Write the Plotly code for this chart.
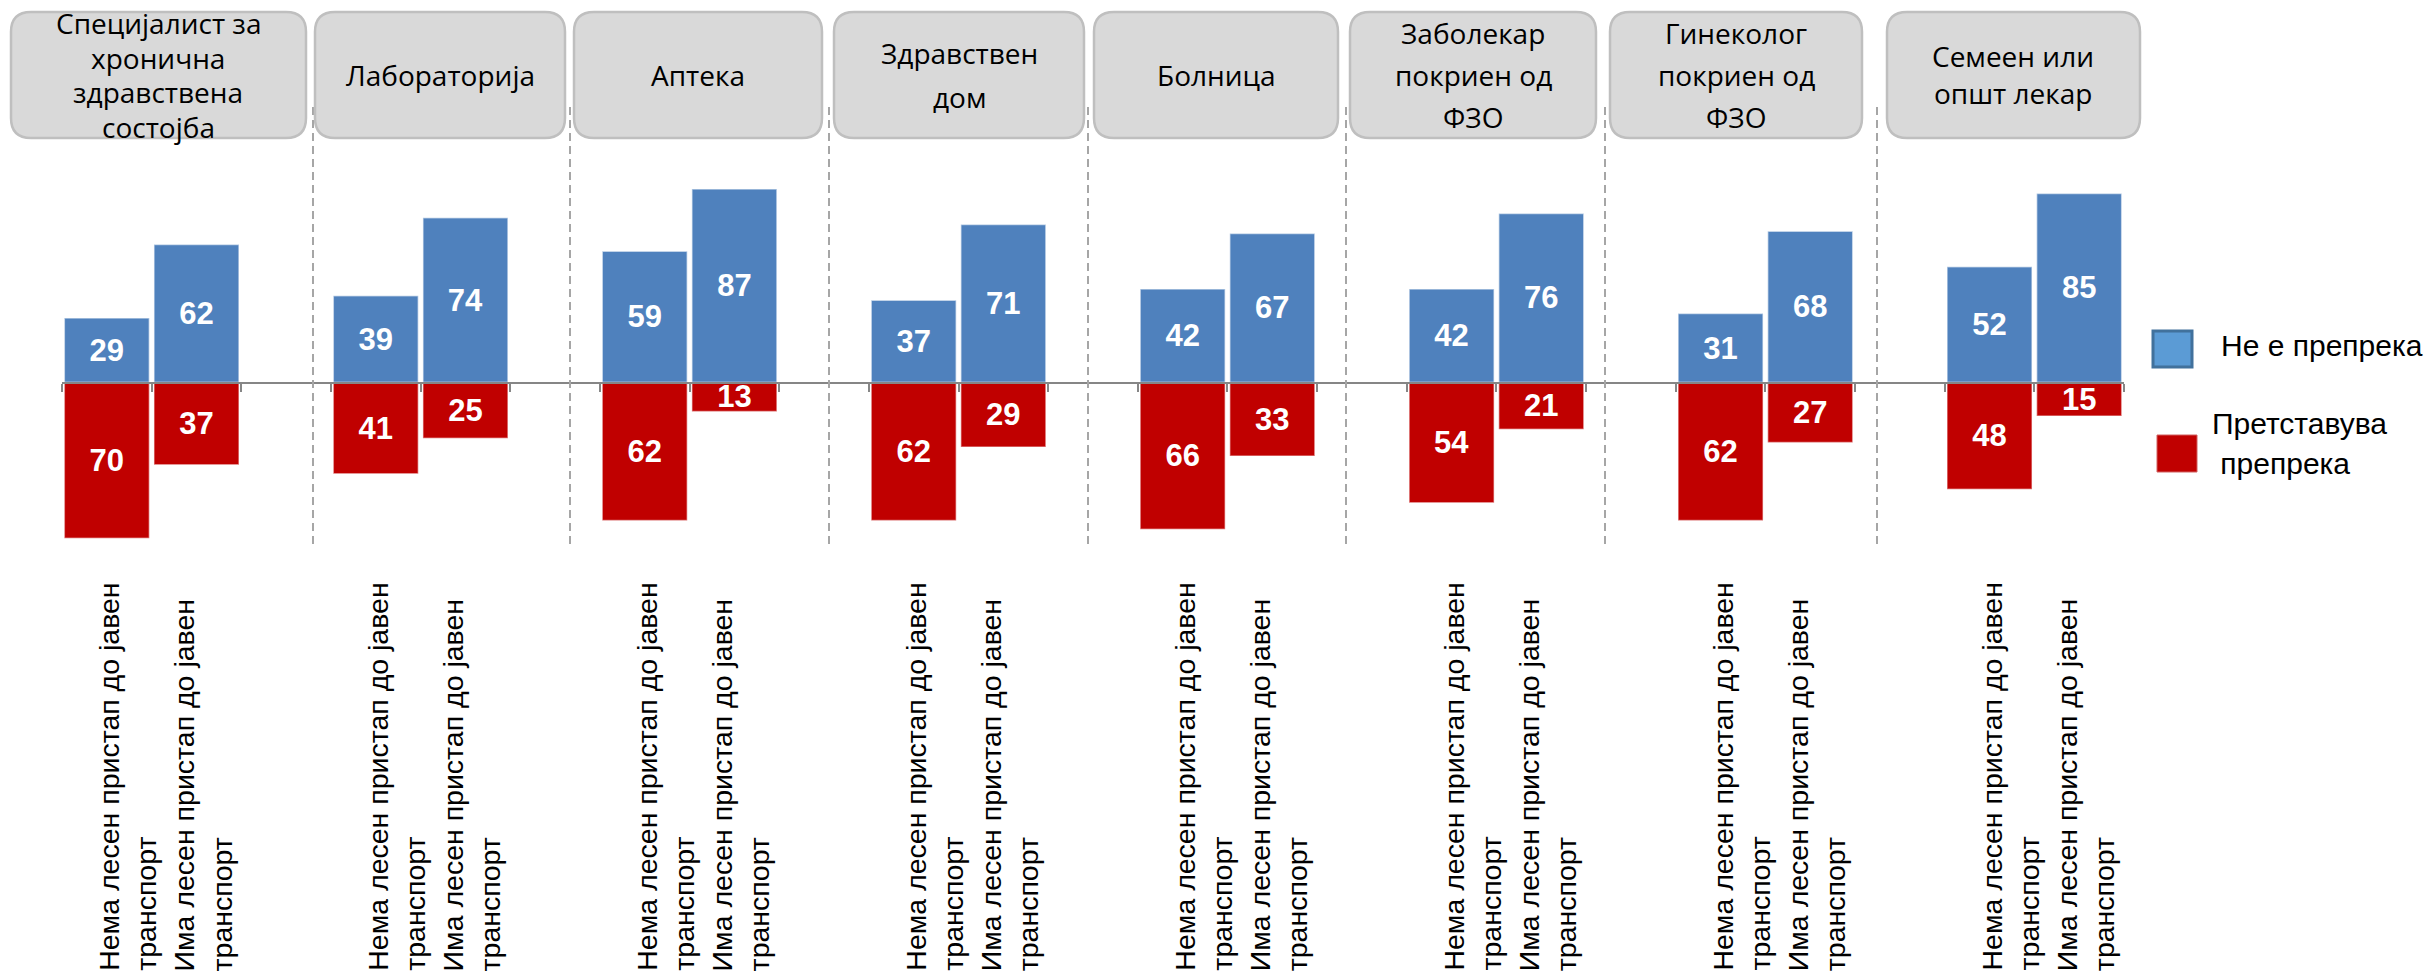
import plotly.graph_objects as go

# ---- data -------------------------------------------------------------
services = [
    "Специјалист за<br>хронична<br>здравствена<br>состојба",
    "Лабораторија",
    "Аптека",
    "Здравствен<br>дом",
    "Болница",
    "Заболекар<br>покриен од<br>ФЗО",
    "Гинеколог<br>покриен од<br>ФЗО",
    "Семеен или<br>општ лекар",
]
access_groups = [
    "Нема лесен пристап до јавен<br>транспорт",
    "Има лесен пристап до јавен<br>транспорт",
]
series_names = ["Не е препрека", "Претставува", "препрека"]

# percentages per service: [no easy access, easy access]
not_barrier_no_access = [29, 39, 59, 37, 42, 42, 31, 52]
not_barrier_access = [62, 74, 87, 71, 67, 76, 68, 85]
barrier_no_access = [70, 41, 62, 62, 66, 54, 62, 48]
barrier_access = [37, 25, 13, 29, 33, 21, 27, 15]

# ---- geometry / style -------------------------------------------------
W, H = 2428, 977
BLUE, RED = "#4f81bd", "#c00000"
AXIS_GREY = "#868686"
SANS = "Liberation Sans, Arial, sans-serif"
HEAD_FONT = "Open Sans, Liberation Sans, sans-serif"

zero_px = 382.5          # pixel row of the zero line
px_per_unit = 2.225      # vertical pixels per percentage point
plot_left, plot_right = 62, 2124
n_slots = 3 * len(services) - 1

y_top = zero_px / px_per_unit
y_bottom = -(H - zero_px) / px_per_unit


def px_x(p):
    return p / W


def px_y(p):
    return 1 - p / H


# each service occupies two bar slots followed by one empty slot
x_pos, blue_vals, red_vals = [], [], []
for i in range(len(services)):
    for j, (b, r) in enumerate(((not_barrier_no_access[i], barrier_no_access[i]),
                                (not_barrier_access[i], barrier_access[i]))):
        x_pos.append(3 * i + j)
        blue_vals.append(b)
        red_vals.append(r)

label_font = dict(family=SANS, size=31, color="white", weight="bold")

fig = go.Figure()
fig.add_trace(go.Bar(
    x=x_pos, y=blue_vals, name=series_names[0],
    marker=dict(color=BLUE, line=dict(color="rgba(255,255,255,0.55)", width=1.5)),
    text=[str(v) for v in blue_vals], textposition="inside",
    insidetextanchor="middle", textangle=0, constraintext="none",
    textfont=label_font, hoverinfo="skip",
))
fig.add_trace(go.Bar(
    x=x_pos, y=[-v for v in red_vals], name=series_names[1] + " " + series_names[2],
    marker=dict(color=RED, line=dict(color="rgba(255,255,255,0.45)", width=1.5)),
    text=[str(v) for v in red_vals], textposition="inside",
    insidetextanchor="middle", textangle=0, constraintext="none",
    textfont=label_font, hoverinfo="skip",
))

shapes = []
annotations = []

# dashed separators between services
sep_px = [313, 570, 829, 1088, 1346, 1605, 1877]
for sx in sep_px:
    shapes.append(dict(
        type="line", xref="paper", yref="paper",
        x0=px_x(sx), x1=px_x(sx), y0=px_y(107), y1=px_y(548),
        line=dict(color="#a6a6a6", width=2, dash="8px,5px"), layer="above",
    ))

# rounded header boxes with the service names
box_left = [11, 315, 574, 834, 1094, 1350, 1610, 1887]
box_right = [306, 565, 822, 1084, 1338, 1596, 1862, 2140]
box_line_gap = [35, 40, 40, 44, 40, 42, 42, 37]
box_top, box_bottom, radius = 12, 138, 20
box_text_mid = 75


def rounded_path(x0, y0, x1, y1, r):
    X, Y = px_x, px_y
    return (
        f"M {X(x0 + r)},{Y(y0)} L {X(x1 - r)},{Y(y0)} "
        f"Q {X(x1)},{Y(y0)} {X(x1)},{Y(y0 + r)} L {X(x1)},{Y(y1 - r)} "
        f"Q {X(x1)},{Y(y1)} {X(x1 - r)},{Y(y1)} L {X(x0 + r)},{Y(y1)} "
        f"Q {X(x0)},{Y(y1)} {X(x0)},{Y(y1 - r)} L {X(x0)},{Y(y0 + r)} "
        f"Q {X(x0)},{Y(y0)} {X(x0 + r)},{Y(y0)} Z"
    )


for name, bl, br, gap in zip(services, box_left, box_right, box_line_gap):
    shapes.append(dict(
        type="path", xref="paper", yref="paper",
        path=rounded_path(bl, box_top, br, box_bottom, radius),
        fillcolor="#d9d9d9", line=dict(color="#bfbfbf", width=2.5), layer="above",
    ))
    lines = name.split("<br>")
    for k, line in enumerate(lines):
        cy = box_text_mid + (k - (len(lines) - 1) / 2) * gap
        annotations.append(dict(
            text=line, xref="paper", yref="paper",
            x=px_x((bl + br) / 2), y=px_y(cy),
            xanchor="center", yanchor="middle", showarrow=False,
            font=dict(family=HEAD_FONT, size=28, color="black"),
        ))

# rotated category labels under each bar
label_shift = [20, 6]
for k, xp in enumerate(x_pos):
    j = k % 2
    annotations.append(dict(
        text=access_groups[j], xref="x", yref="paper",
        x=xp, y=px_y(973), xanchor="center", yanchor="bottom",
        xshift=label_shift[j], textangle=-90, align="left", showarrow=False,
        font=dict(family=SANS, size=28.5, color="black"),
    ))

# legend
shapes.append(dict(type="rect", xref="paper", yref="paper",
                   x0=px_x(2153), x1=px_x(2192), y0=px_y(331), y1=px_y(367),
                   fillcolor="#5b9bd5", line=dict(color="#41719c", width=3)))
shapes.append(dict(type="rect", xref="paper", yref="paper",
                   x0=px_x(2157), x1=px_x(2197), y0=px_y(435), y1=px_y(472),
                   fillcolor=RED, line=dict(color="#d06060", width=1)))
legend_text = [(series_names[0], 2219, 345), (series_names[1], 2210, 423),
               (" " + series_names[2], 2210, 463)]
for txt, lx, ly in legend_text:
    annotations.append(dict(
        text=txt, xref="paper", yref="paper", x=px_x(lx), y=px_y(ly),
        xanchor="left", yanchor="middle", showarrow=False,
        font=dict(family=SANS, size=30, color="black"),
    ))

fig.update_layout(
    width=W, height=H,
    margin=dict(l=0, r=0, t=0, b=0),
    paper_bgcolor="white", plot_bgcolor="white",
    barmode="relative", bargap=0.052,
    showlegend=False,
    shapes=shapes, annotations=annotations,
    xaxis=dict(
        domain=[px_x(plot_left), px_x(plot_right)],
        range=[-0.5, n_slots - 0.5],
        anchor="free", position=1 - zero_px / H,
        showgrid=False, zeroline=False, showticklabels=False,
        tickmode="array", tickvals=[k - 0.5 for k in range(n_slots + 1)],
        ticks="outside", ticklen=8, tickwidth=2, tickcolor=AXIS_GREY,
        showline=True, linecolor=AXIS_GREY, linewidth=2,
    ),
    yaxis=dict(
        domain=[0, 1], range=[y_bottom, y_top],
        visible=False, showgrid=False, zeroline=False,
    ),
)

fig.write_html("out.html")
